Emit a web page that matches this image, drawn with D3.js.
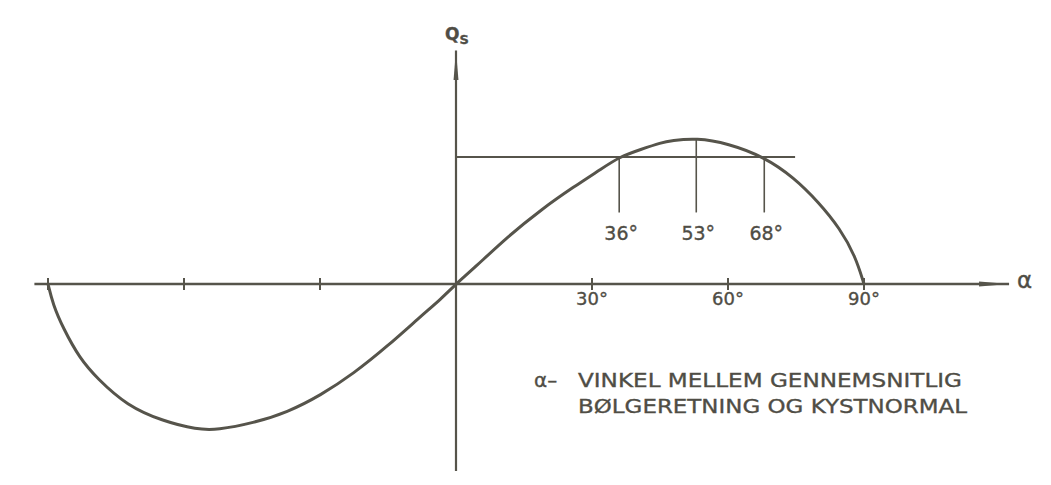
<!DOCTYPE html>
<html>
<head>
<meta charset="utf-8">
<style>
  body { margin: 0; background: #fff; }
  text { font-family: 'DejaVu Sans', sans-serif; fill: #4f4d45; stroke: #4f4d45; stroke-width: 0.35; }
</style>
</head>
<body>
<div id='chart'></div>
<script src='https://cdn.jsdelivr.net/npm/d3@7'></script>
<script>
    var width = 1051,
        height = 485;

    // curve: angle (deg) and relative transport Qs
    var curve_angle = [-90, -88.9, -86.7, -83.0, -79.2, -72.6, -64.6, -57.1, -52.7, -44.7, -37.2, -29.9,
                       -22.6, -15.0, -7.7, -3.3, 0, 4.0, 11.5, 18.8, 26.0, 32.0, 36.0, 40.8, 45.3,
                       47.5, 53, 60, 68, 74.5, 80.0, 84.7, 88.1, 90];
    var curve_q = [0, -0.14, -0.30, -0.51, -0.645, -0.833, -0.94, -0.997, -1.0, -0.952, -0.879, -0.763,
                   -0.614, -0.423, -0.219, -0.103, 0, 0.109, 0.327, 0.51, 0.666, 0.787, 0.87, 0.922, 0.969,
                   0.982, 1.0, 0.963, 0.87, 0.73, 0.56, 0.38, 0.19, 0];

    var axis_ticks = [-90, -60, -30, 30, 60, 90];
    var axis_tick_labels = ['', '', '', '30°', '60°', '90°'];

    var marked_angles = [36, 53, 68];
    var marked_q = [0.87, 0.995, 0.87];
    var marked_labels = ['36°', '53°', '68°'];
    var level_q = 0.87,
        level_end = 74.8,
        drop_bottom = 0.49;

    var note_lines = ['VINKEL MELLEM  GENNEMSNITLIG', 'BØLGERETNING OG KYSTNORMAL'];

    var ink = '#56544b';

    var x = d3.scaleLinear().domain([-90, 90]).range([48, 864]);
    var y = d3.scaleLinear().domain([0, 1]).range([284, 138]);

    var svg = d3.select('#chart').append('svg')
        .attr('width', width).attr('height', height);

    var defs = svg.append('defs');
    defs.append('marker').attr('id', 'arr').attr('viewBox', '0 0 30 10')
        .attr('refX', 30).attr('refY', 5)
        .attr('markerWidth', 30).attr('markerHeight', 10)
        .attr('markerUnits', 'userSpaceOnUse').attr('orient', 'auto')
        .append('path').attr('d', 'M0,2.5 L30,5 L0,7.5 Z').attr('fill', ink);

    // x axis
    svg.append('line')
        .attr('x1', x(-93)).attr('x2', x(122)).attr('y1', y(0)).attr('y2', y(0))
        .attr('stroke', ink).attr('stroke-width', 2.5).attr('marker-end', 'url(#arr)');
    // y axis
    svg.append('line')
        .attr('x1', x(0)).attr('x2', x(0)).attr('y1', y(-1.28)).attr('y2', y(1.6))
        .attr('stroke', ink).attr('stroke-width', 2.2).attr('marker-end', 'url(#arr)');

    svg.selectAll('.tick').data(axis_ticks).enter().append('line')
        .attr('x1', function(d){ return x(d); }).attr('x2', function(d){ return x(d); })
        .attr('y1', y(0) - 6).attr('y2', y(0) + 6)
        .attr('stroke', ink).attr('stroke-width', 2);

    svg.selectAll('.ticklabel').data(axis_ticks).enter().append('text')
        .attr('x', function(d){ return x(d); }).attr('y', y(0) + 21)
        .attr('text-anchor', 'middle').style('font-size', '18px')
        .text(function(d, i){ return axis_tick_labels[i]; });

    svg.append('text').attr('x', x(122) + 8).attr('y', y(0) + 4)
        .style('font-size', '23px').text('α');

    var ql = svg.append('text').attr('x', x(0) - 11).attr('y', 40)
        .style('font-size', '17px').style('font-weight', 'bold');
    ql.append('tspan').text('Q');
    ql.append('tspan').attr('dy', 4).style('font-size', '13px').text('S');

    // level line and markers
    svg.append('line')
        .attr('x1', x(0)).attr('x2', x(level_end)).attr('y1', y(level_q)).attr('y2', y(level_q))
        .attr('stroke', ink).attr('stroke-width', 2);

    svg.selectAll('.drop').data(marked_angles).enter().append('line')
        .attr('x1', function(d){ return x(d); }).attr('x2', function(d){ return x(d); })
        .attr('y1', function(d, i){ return y(marked_q[i]); }).attr('y2', y(drop_bottom))
        .attr('stroke', ink).attr('stroke-width', 1.6);

    svg.selectAll('.droplabel').data(marked_angles).enter().append('text')
        .attr('x', function(d){ return x(d) + 2; }).attr('y', 240)
        .attr('text-anchor', 'middle').style('font-size', '19px')
        .text(function(d, i){ return marked_labels[i]; });

    // curve
    var pts = curve_angle.map(function(a, i){ return [a, curve_q[i]]; });
    svg.append('path').datum(pts)
        .attr('d', d3.line().x(function(d){ return x(d[0]); }).y(function(d){ return y(d[1]); })
            .curve(d3.curveBasis))
        .attr('fill', 'none').attr('stroke', ink).attr('stroke-width', 3);

    // note
    svg.append('text').attr('x', 534).attr('y', 387).style('font-size', '20px').text('α–');
    svg.selectAll('.note').data(note_lines).enter().append('text')
        .attr('x', 578).attr('y', function(d, i){ return 387 + i * 26; })
        .attr('textLength', function(d, i){ return i == 0 ? 384 : 389; })
        .attr('lengthAdjust', 'spacingAndGlyphs')
        .style('font-size', '20px')
        .text(function(d){ return d; });
</script>
</body>
</html>
